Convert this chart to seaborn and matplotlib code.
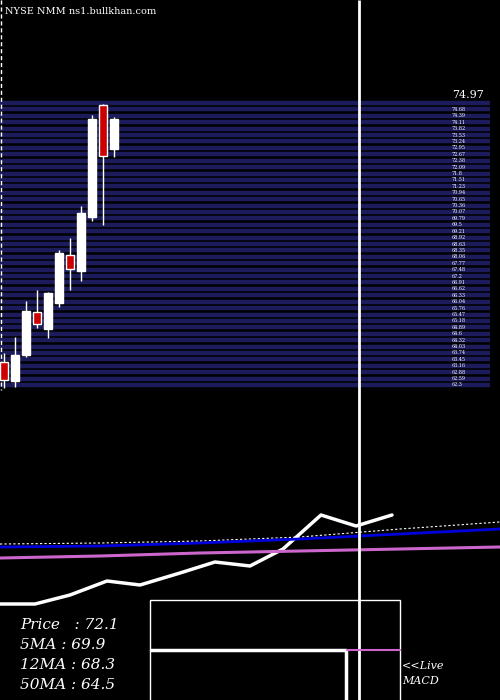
import numpy as np
import pandas as pd
import seaborn as sns
import matplotlib.pyplot as plt
from matplotlib.patches import Rectangle

sns.set_style('dark')
plt.rcParams['font.family'] = ['DejaVu Serif']

# candles, in chart units (screen rows, smaller = higher price)
cx = [4, 15, 26, 37, 48, 59, 70, 81, 92, 103, 114]
c_open = [362, 381, 355, 312, 329, 303, 255, 271, 217, 105, 149]
c_close = [380, 355, 311, 324, 293, 253, 269, 213, 119, 156, 119]
c_high = [353, 337, 301, 290, 292, 250, 238, 206, 115, 104, 117]
c_low = [388, 387, 357, 328, 338, 307, 290, 281, 221, 225, 157]

# price grid levels
grid_top, grid_bot, n_grid = 103, 385, 45
grid_labels = np.round(np.linspace(74.97, 62.3, n_grid), 2)

# lower panel lines
px = [0, 35, 70, 107, 140, 180, 215, 250, 283, 321, 356, 392]
price_line = [604, 604, 595, 581, 585, 573, 562, 566, 549, 515, 526, 515]
ma_x = [0, 100, 200, 300, 400, 500]
ma5 = [544, 543, 541, 537, 529, 522]
ma12 = [547, 546, 543, 539, 534, 529]
ma50 = [558, 556, 553, 551, 549, 547]

fig = plt.figure(figsize=(5, 7), dpi=100)
ax = fig.add_axes([0, 0, 1, 1])
ax.set_facecolor('black')
ax.set_xlim(0, 500)
ax.set_ylim(700, 0)
ax.axis('off')

for i, (y, lab) in enumerate(zip(np.linspace(grid_top, grid_bot, n_grid), grid_labels)):
    ax.hlines(y, 0, 490, color='#1c1c5c', lw=3.2)
    if i == 0:
        ax.text(452, y - 3, f'{lab}', color='white', fontsize=8, va='bottom')
    else:
        ax.text(452, y, f'{lab}', color='white', fontsize=3.5, va='center')

ax.vlines(1, 0, 390, color='white', lw=1, ls=(0, (3, 2)))

for x, o, c, h, l in zip(cx, c_open, c_close, c_high, c_low):
    up = c < o
    ax.vlines(x, h, l, color='white', lw=1)
    top, bot = min(o, c), max(o, c)
    ax.add_patch(Rectangle((x - 4, top), 8, bot - top,
                           facecolor='white' if up else '#cc0000',
                           edgecolor='white', lw=1, zorder=3))

df = pd.DataFrame({'x': px, 'y': price_line})
sns.lineplot(data=df, x='x', y='y', color='white', lw=2.5, ax=ax)
ma = pd.DataFrame({'x': ma_x, '5': ma5, '12': ma12, '50': ma50})
sns.lineplot(data=ma, x='x', y='5', color='white', lw=0.8, ls=(0, (2, 2)), ax=ax)
sns.lineplot(data=ma, x='x', y='12', color='#0000dd', lw=2, ax=ax)
sns.lineplot(data=ma, x='x', y='50', color='#cc66cc', lw=2.2, ax=ax)
ax.set_xlim(0, 500)
ax.set_ylim(700, 0)
ax.axis('off')

ax.vlines(359, 0, 700, color='white', lw=2)

ax.add_patch(Rectangle((150, 600), 250, 105, fill=False, edgecolor='white', lw=1))
ax.plot([151, 346, 346], [650, 650, 700], color='white', lw=2.5)
ax.plot([347, 400], [650, 650], color='#cc66cc', lw=1.5)

txt = [('Price   : 72.1', 625), ('5MA : 69.9', 645), ('12MA : 68.3', 665), ('50MA : 64.5', 685)]
for t, y in txt:
    ax.text(20, y, t, color='white', fontsize=11, style='italic', va='center')
ax.text(402, 666, '<<Live', color='white', fontsize=8, style='italic', va='center')
ax.text(402, 681, 'MACD', color='white', fontsize=8, style='italic', va='center')
ax.text(5, 12, 'NYSE NMM ns1.bullkhan.com', color='white', fontsize=7, va='center')

fig.savefig('out.png', dpi=100, facecolor='black')
